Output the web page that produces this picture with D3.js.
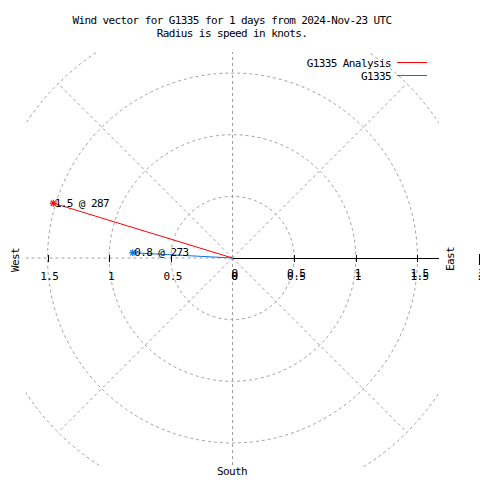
<!DOCTYPE html>
<html>
<head>
<meta charset="utf-8">
<script src="https://cdn.jsdelivr.net/npm/d3@7"></script>
<style>
  html, body { margin: 0; padding: 0; background: #fff; }
  svg { display: block; }
  text { font-family: "DejaVu Sans Mono", "Liberation Mono", monospace; font-size: 11px; letter-spacing: -0.6px; fill: #000; }
</style>
</head>
<body>
<svg id="chart" width="480" height="480"></svg>
<script>
// ---- data ----
const titleLines = ["Wind vector for G1335 for 1 days from 2024-Nov-23 UTC", "Radius is speed in knots."];
const seriesNames = ["G1335 Analysis", "G1335"];
const speeds = [1.52, 0.81];        // knots
const directions = [287, 273];      // degrees (compass)
const labelSpeeds = [1.5, 0.8];
const rTicks = [0.5, 1, 1.5, 2];
const gridAngles = [0, 45, 90, 135, 180, 225, 270, 315];
const compassLabels = ["West", "East", "South"];

// ---- layout ----
const colors = ["#ff0000", "#1070e0"];
const cx = 232.5, cy = 258;
const rMax = 2;
const r = d3.scaleLinear().domain([0, rMax]).range([0, 246.6]);
const x = d3.scaleLinear().domain([-rMax, rMax]).range([cx - r(rMax), cx + r(rMax)]);
const clip = { x0: 26, y0: 52, x1: 439, y1: 467 };

const svg = d3.select("#chart");
svg.append("defs").append("clipPath").attr("id", "plotclip")
  .append("rect").attr("x", clip.x0).attr("y", clip.y0)
  .attr("width", clip.x1 - clip.x0).attr("height", clip.y1 - clip.y0);

const pol = (s, deg) => {
  const t = deg * Math.PI / 180;
  return [cx + r(s) * Math.sin(t), cy - r(s) * Math.cos(t)];
};

// title
svg.selectAll("text.title").data(titleLines).enter().append("text")
  .attr("class", "title")
  .attr("x", 232).attr("y", (d, i) => 24 + i * 12.7)
  .attr("text-anchor", "middle").text(d => d);

// grid
const grid = svg.append("g").attr("clip-path", "url(#plotclip)")
  .attr("fill", "none").attr("stroke", "#a0a0a0").attr("stroke-width", 1)
  .attr("stroke-dasharray", "3,3");
grid.selectAll("circle").data(rTicks).enter().append("circle")
  .attr("cx", cx).attr("cy", cy).attr("r", d => r(d));
grid.selectAll("line").data(gridAngles.filter(a => a !== 90)).enter().append("line")
  .attr("x1", cx).attr("y1", cy)
  .attr("x2", d => pol(rMax, d)[0]).attr("y2", d => pol(rMax, d)[1]);

// axis (east side solid)
const axis = svg.append("g").attr("stroke", "#000").attr("stroke-width", 1).attr("shape-rendering", "crispEdges");
axis.append("line").attr("x1", cx).attr("x2", clip.x1).attr("y1", cy + 0.5).attr("y2", cy + 0.5);
const tickVals = [-1.5, -1, -0.5, 0.5, 1, 1.5, 2];
axis.selectAll("line.tick").data(tickVals).enter().append("line")
  .attr("class", "tick")
  .attr("x1", d => Math.round(x(d)) + 0.5).attr("x2", d => Math.round(x(d)) + 0.5)
  .attr("y1", d => d === 2 ? cy - 4 : cy - 3).attr("y2", d => d === 2 ? cy + 7 : cy + 4);

const fmt = d3.format("~g");
// left labels
svg.selectAll("text.ltick").data([-1.5, -1, -0.5, 0]).enter().append("text")
  .attr("class", "ltick").attr("text-anchor", "middle")
  .attr("x", d => x(d) + 1.8).attr("y", 280).text(d => fmt(Math.abs(d)));
// right labels (doubled, as in original)
[280, 277].forEach(by => {
  svg.selectAll(null).data([0, 0.5, 1, 1.5, 2]).enter().append("text")
    .attr("text-anchor", "middle")
    .attr("x", d => x(d) + 2).attr("y", by).text(d => fmt(d));
});

// compass labels
svg.append("text").attr("transform", "translate(18.5,260) rotate(-90)")
  .attr("text-anchor", "middle").text(compassLabels[0]);
svg.append("text").attr("transform", "translate(454,259) rotate(-90)")
  .attr("text-anchor", "middle").text(compassLabels[1]);
svg.append("text").attr("x", 232).attr("y", 475)
  .attr("text-anchor", "middle").text(compassLabels[2]);

// series
const fmt1 = d3.format(".1f");
speeds.forEach((s, i) => {
  const [px, py] = pol(s, directions[i]);
  const g = svg.append("g");
  g.append("line").attr("x1", cx).attr("y1", cy).attr("x2", px).attr("y2", py)
    .attr("stroke", colors[i]).attr("stroke-width", 1);
  const a = 3.5, b = 2.6;
  const star = g.append("g").attr("stroke", colors[i]).attr("stroke-width", 1.2);
  star.append("line").attr("x1", px - a).attr("x2", px + a).attr("y1", py).attr("y2", py);
  star.append("line").attr("x1", px).attr("x2", px).attr("y1", py - a).attr("y2", py + a);
  star.append("line").attr("x1", px - b).attr("x2", px + b).attr("y1", py - b).attr("y2", py + b);
  star.append("line").attr("x1", px - b).attr("x2", px + b).attr("y1", py + b).attr("y2", py - b);
  g.append("text").attr("x", px + 1.5).attr("y", py + 3.5)
    .text(fmt1(labelSpeeds[i]) + " @ " + directions[i]);
});

// legend
seriesNames.forEach((n, i) => {
  const y = 62.5 + i * 13;
  svg.append("text").attr("x", 391).attr("y", y + 4.5).attr("text-anchor", "end").text(n);
  svg.append("line").attr("x1", 397).attr("x2", 427).attr("y1", y).attr("y2", y)
    .attr("stroke", colors[i]).attr("stroke-width", 1).attr("shape-rendering", "crispEdges");
});
</script>
</body>
</html>
